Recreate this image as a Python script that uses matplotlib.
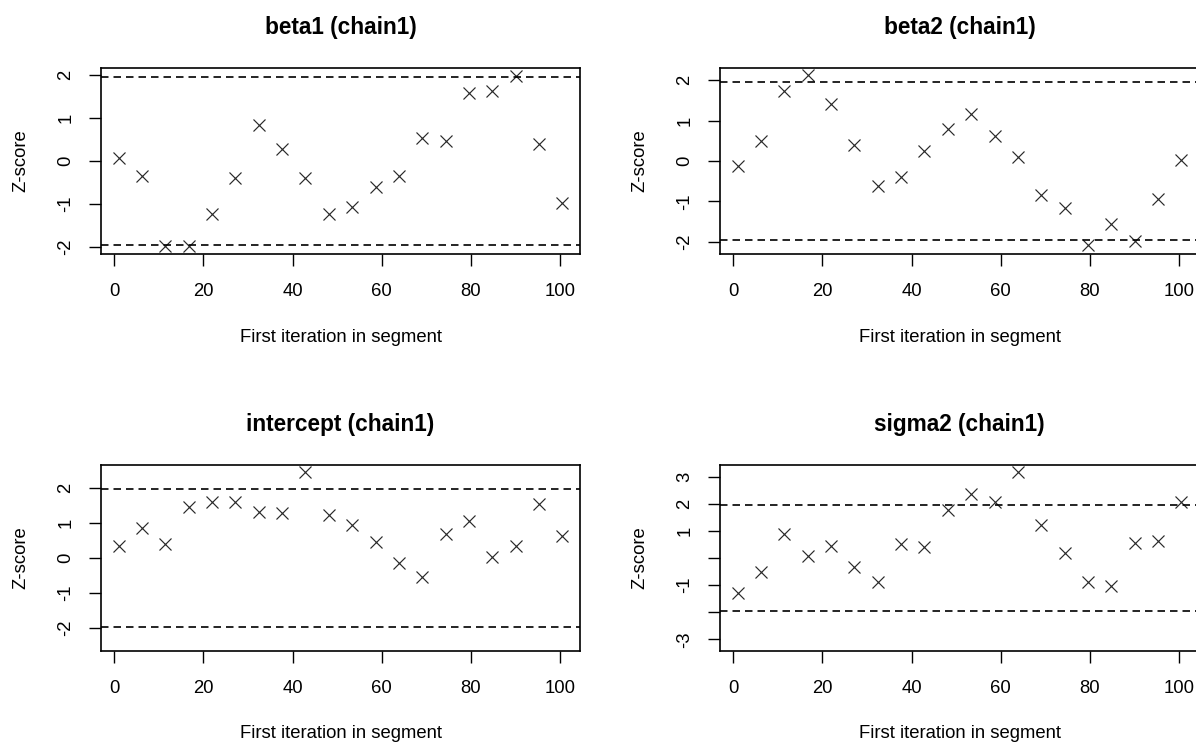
import numpy as np
import matplotlib
matplotlib.use("Agg")
import matplotlib.pyplot as plt

plt.rcParams["font.family"] = ["Liberation Sans", "DejaVu Sans"]

# first iteration of each of the 20 segments
seg_start = [1, 6.24, 11.47, 16.71, 21.95, 27.18, 32.42, 37.66, 42.89, 48.13,
             53.37, 58.61, 63.84, 69.08, 74.32, 79.55, 84.79, 90.03, 95.26, 100.5]

# Geweke z-scores per parameter
z_beta1 = [0.06, -0.35, -1.97, -1.97, -1.24, -0.40, 0.83, 0.29, -0.40, -1.24,
           -1.07, -0.60, -0.35, 0.53, 0.46, 1.58, 1.62, 1.97, 0.40, -0.98]
z_beta2 = [-0.12, 0.49, 1.72, 2.13, 1.41, 0.39, -0.61, -0.39, 0.24, 0.80,
           1.17, 0.63, 0.10, -0.84, -1.17, -2.07, -1.56, -1.99, -0.93, 0.03]
z_intercept = [0.35, 0.85, 0.40, 1.47, 1.60, 1.60, 1.31, 1.28, 2.46, 1.23,
               0.93, 0.45, -0.13, -0.55, 0.68, 1.06, 0.03, 0.35, 1.54, 0.63]
z_sigma2 = [-1.30, -0.52, 0.90, 0.07, 0.44, -0.33, -0.89, 0.51, 0.41, 1.79,
            2.38, 2.07, 3.18, 1.21, 0.19, -0.89, -1.04, 0.56, 0.62, 2.07]

titles = ["beta1 (chain1)", "beta2 (chain1)", "intercept (chain1)", "sigma2 (chain1)"]
series = [z_beta1, z_beta2, z_intercept, z_sigma2]
xticks = [0, 20, 40, 60, 80, 100]
crit = 1.96

W, H = 1196, 744
fig = plt.figure(figsize=(W / 100, H / 100), dpi=100)

# box positions in pixels: (left, top)
box_w, box_h = 479, 186
corners = [(101, 68), (720, 68), (101, 465), (720, 465)]

for (left, top), title, z in zip(corners, titles, series):
    ax = fig.add_axes([left / W, 1 - (top + box_h) / H, box_w / W, box_h / H])
    ax.plot(seg_start, z, linestyle="none", marker="x", markersize=8.6,
            markeredgewidth=0.85, color="#2a2a2a")
    ax.axhline(crit, color="black", lw=1.2, dashes=(4.5, 3))
    ax.axhline(-crit, color="black", lw=1.2, dashes=(4.5, 3))

    # R style ranges: symmetric y, 4% padding on both axes
    lim = max(2, np.max(np.abs(z))) * 1.08
    ax.set_ylim(-lim, lim)
    span = seg_start[-1] - seg_start[0]
    ax.set_xlim(seg_start[0] - 0.04 * span, seg_start[-1] + 0.04 * span)

    ax.set_xticks(xticks)
    if lim > 3:
        ax.set_yticks([-3, -2, -1, 0, 1, 2, 3])
        ax.set_yticklabels(["-3", "", "-1", "", "1", "2", "3"])
    else:
        ax.set_yticks([-2, -1, 0, 1, 2])
        ax.set_yticklabels(["-2", "-1", "0", "1", "2"])
    plt.setp(ax.get_yticklabels(), rotation=90, va="center")

    ax.tick_params(length=8.6, width=1.0, labelsize=13.3)
    ax.tick_params(axis="x", pad=12)
    ax.tick_params(axis="y", pad=10.5)
    for sp in ax.spines.values():
        sp.set_linewidth(1.2)

    ax.set_title(title, fontsize=16.3, fontweight="bold", pad=24.5)
    ax.set_xlabel("First iteration in segment", fontsize=13.3, va="center")
    ax.xaxis.set_label_coords(0.5, -(337 - 254) / box_h)
    ax.set_ylabel("Z-score", fontsize=13.3, va="center")
    ax.yaxis.set_label_coords(-(101 - 21) / box_w, 0.5)

fig.savefig("out.png", dpi=100)
